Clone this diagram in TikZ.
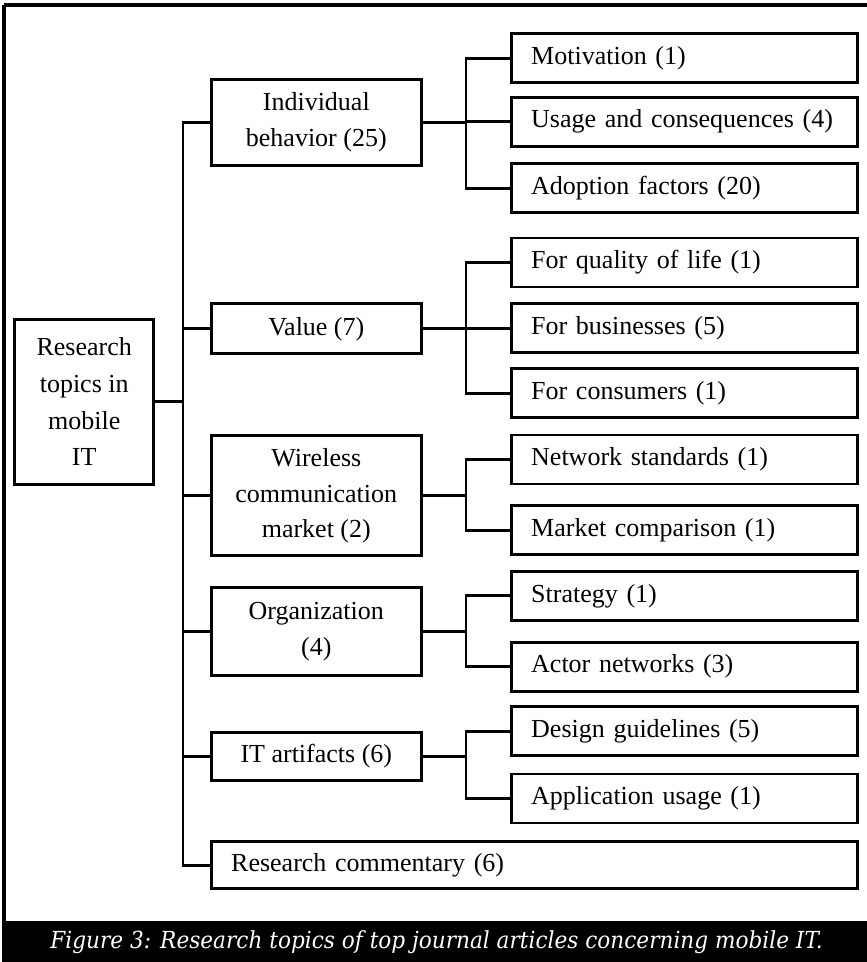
\documentclass[tikz,border=0pt]{standalone}
\usepackage{fontspec}
\setmainfont{Liberation Serif}
\newfontfamily\capfont[FakeStretch=0.92]{DejaVu Serif}
\begin{document}
\begin{tikzpicture}[x=1pt,y=-1pt,
  every node/.style={inner sep=0pt,outer sep=0pt},
  topic/.style={draw,line width=2.7pt,align=center,
    font=\fontsize{26}{35.6}\selectfont},
  midbox/.style={topic,minimum width=210pt},
  leafbox/.style={topic,minimum width=346pt,minimum height=49pt,
    text width=306pt,align=left},
  link/.style={line width=2.7pt,line join=miter}]
\useasboundingbox (0,0) rectangle (867,962);

% outer frame and caption band
\draw[line width=3.2pt] (4,5) -- (867,5);
\draw[line width=3.2pt] (4,5) -- (4,921);
\fill[black] (2.4,921) rectangle (867,962);
\node[text=white,font=\capfont\itshape\fontsize{23.5}{28}\selectfont,anchor=base]
  (cap) at (436.5,948) {Figure 3: Research topics of top journal articles concerning mobile IT.};

% root
\node[topic,font=\fontsize{26}{36.7}\selectfont,minimum width=139pt,minimum height=165pt]
  (root) at (84.2,401.7) {Research\\topics in\\mobile\\IT};

% first level
\node[midbox,minimum height=86pt] (ib)  at (316.3,122.2) {Individual\\behavior (25)};
\node[midbox,minimum height=50pt] (val) at (316.3,328.8) {Value (7)};
\node[midbox,minimum height=120pt] (wir) at (316.3,495.8) {Wireless\\communication\\market (2)};
\node[midbox,minimum height=88pt] (org) at (316.3,631.7) {Organization\\(4)};
\node[midbox,minimum height=48pt] (ita) at (316.3,756.3) {IT artifacts (6)};
\node[topic,minimum width=646pt,minimum height=47pt,text width=606pt,align=left]
  (rc) at (534.2,865.3) {Research commentary (6)};

% second level
\node[leafbox] (mot) at (684.2,58.3)  {Motivation (1)};
\node[leafbox] (use) at (684.2,121.7) {Usage and consequences (4)};
\node[leafbox] (ado) at (684.2,188.3) {Adoption factors (20)};
\node[leafbox] (fql) at (684.2,262.5) {For quality of life (1)};
\node[leafbox] (fbu) at (684.2,328.3) {For businesses (5)};
\node[leafbox] (fco) at (684.2,393.3) {For consumers (1)};
\node[leafbox] (nst) at (684.2,459.5) {Network standards (1)};
\node[leafbox] (mco) at (684.2,530.2) {Market comparison (1)};
\node[leafbox] (str) at (684.2,595.8) {Strategy (1)};
\node[leafbox] (act) at (684.2,666.7) {Actor networks (3)};
\node[leafbox] (des) at (684.2,731.3) {Design guidelines (5)};
\node[leafbox] (app) at (684.2,798.5) {Application usage (1)};

% trunk positions
\coordinate (tk) at (183,0);
\coordinate (sk) at (466,0);

% root to first level
\draw[link] (root.east) -- (root.east -| tk);
\draw[link] (ib.west) -- (ib.west -| tk) -- (rc.west -| tk) -- (rc.west);
\foreach \n in {val,wir,org,ita}
  \draw[link] (\n.west) -- (\n.west -| tk);

% first level to second level
\draw[link] (ib.east) -- (ib.east -| sk);
\draw[link] (mot.west) -- (mot.west -| sk) -- (ado.west -| sk) -- (ado.west);
\draw[link] (use.west) -- (use.west -| sk);

\draw[link] (val.east) -- (val.east -| sk);
\draw[link] (fql.west) -- (fql.west -| sk) -- (fco.west -| sk) -- (fco.west);
\draw[link] (fbu.west) -- (fbu.west -| sk);

\draw[link] (wir.east) -- (wir.east -| sk);
\draw[link] (nst.west) -- (nst.west -| sk) -- (mco.west -| sk) -- (mco.west);

\draw[link] (org.east) -- (org.east -| sk);
\draw[link] (str.west) -- (str.west -| sk) -- (act.west -| sk) -- (act.west);

\draw[link] (ita.east) -- (ita.east -| sk);
\draw[link] (des.west) -- (des.west -| sk) -- (app.west -| sk) -- (app.west);
\end{tikzpicture}
\end{document}
